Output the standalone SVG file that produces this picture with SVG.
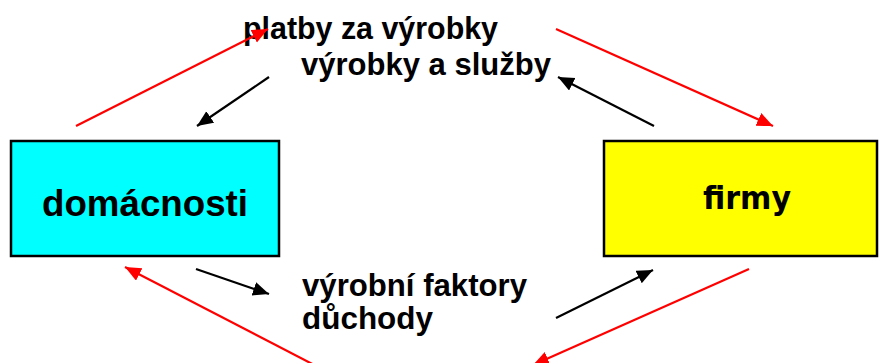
<svg xmlns="http://www.w3.org/2000/svg" width="880" height="363" viewBox="0 0 880 363">
<style>
.lbl{font-family:"Liberation Sans",Arial,sans-serif;font-weight:bold;font-size:31px;fill:#000}
.big{font-family:"Liberation Sans",Arial,sans-serif;font-weight:bold;font-size:37px;fill:#000}
.red{stroke:#ff0000;stroke-width:2.2;fill:none}
.blk{stroke:#000;stroke-width:2.2;fill:none}
.box{stroke:#000;stroke-width:2.5}
</style>
<defs>
<marker id="ar" markerUnits="userSpaceOnUse" markerWidth="17" markerHeight="15" refX="16" refY="7" orient="auto">
<path d="M0,0 L16,7 L0,14 z" fill="#ff0000"/>
</marker>
<marker id="ab" markerUnits="userSpaceOnUse" markerWidth="17" markerHeight="15" refX="16" refY="7" orient="auto">
<path d="M0,0 L16,7 L0,14 z" fill="#000"/>
</marker>
</defs>
<rect width="880" height="363" fill="#fff"/>
<g id="domacnosti">
<rect class="box" x="11" y="141" width="268" height="115" fill="#00ffff"/>
<text class="big" x="42" y="216" textLength="206" lengthAdjust="spacingAndGlyphs">domácnosti</text>
</g>
<g id="firmy">
<rect class="box" x="604" y="141" width="273" height="115" fill="#ffff00"/>
<text x="703" y="209" font-family="'DejaVu Sans',Verdana,sans-serif" font-weight="bold" font-size="32" textLength="88" lengthAdjust="spacingAndGlyphs">firmy</text>
</g>
<g id="labels">
<text class="lbl" x="243" y="39" textLength="255" lengthAdjust="spacingAndGlyphs">platby za výrobky</text>
<text class="lbl" x="301" y="75" textLength="250" lengthAdjust="spacingAndGlyphs">výrobky a služby</text>
<text class="lbl" x="302" y="296" textLength="225" lengthAdjust="spacingAndGlyphs">výrobní faktory</text>
<text class="lbl" x="302" y="329" textLength="131" lengthAdjust="spacingAndGlyphs">důchody</text>
</g>
<g id="connectors">
<line class="red" x1="76" y1="126" x2="268" y2="29" marker-end="url(#ar)"/>
<line class="blk" x1="269" y1="77" x2="197" y2="126" marker-end="url(#ab)"/>
<line class="red" x1="556" y1="29" x2="773" y2="126" marker-end="url(#ar)"/>
<line class="blk" x1="654" y1="126" x2="558" y2="77" marker-end="url(#ab)"/>
<line class="blk" x1="196" y1="269" x2="269" y2="294" marker-end="url(#ab)"/>
<line class="blk" x1="556" y1="318" x2="653" y2="270" marker-end="url(#ab)"/>
<line class="red" x1="322" y1="369" x2="125" y2="267" marker-end="url(#ar)"/>
<line class="red" x1="749" y1="269" x2="533" y2="365" marker-end="url(#ar)"/>
</g>
</svg>
